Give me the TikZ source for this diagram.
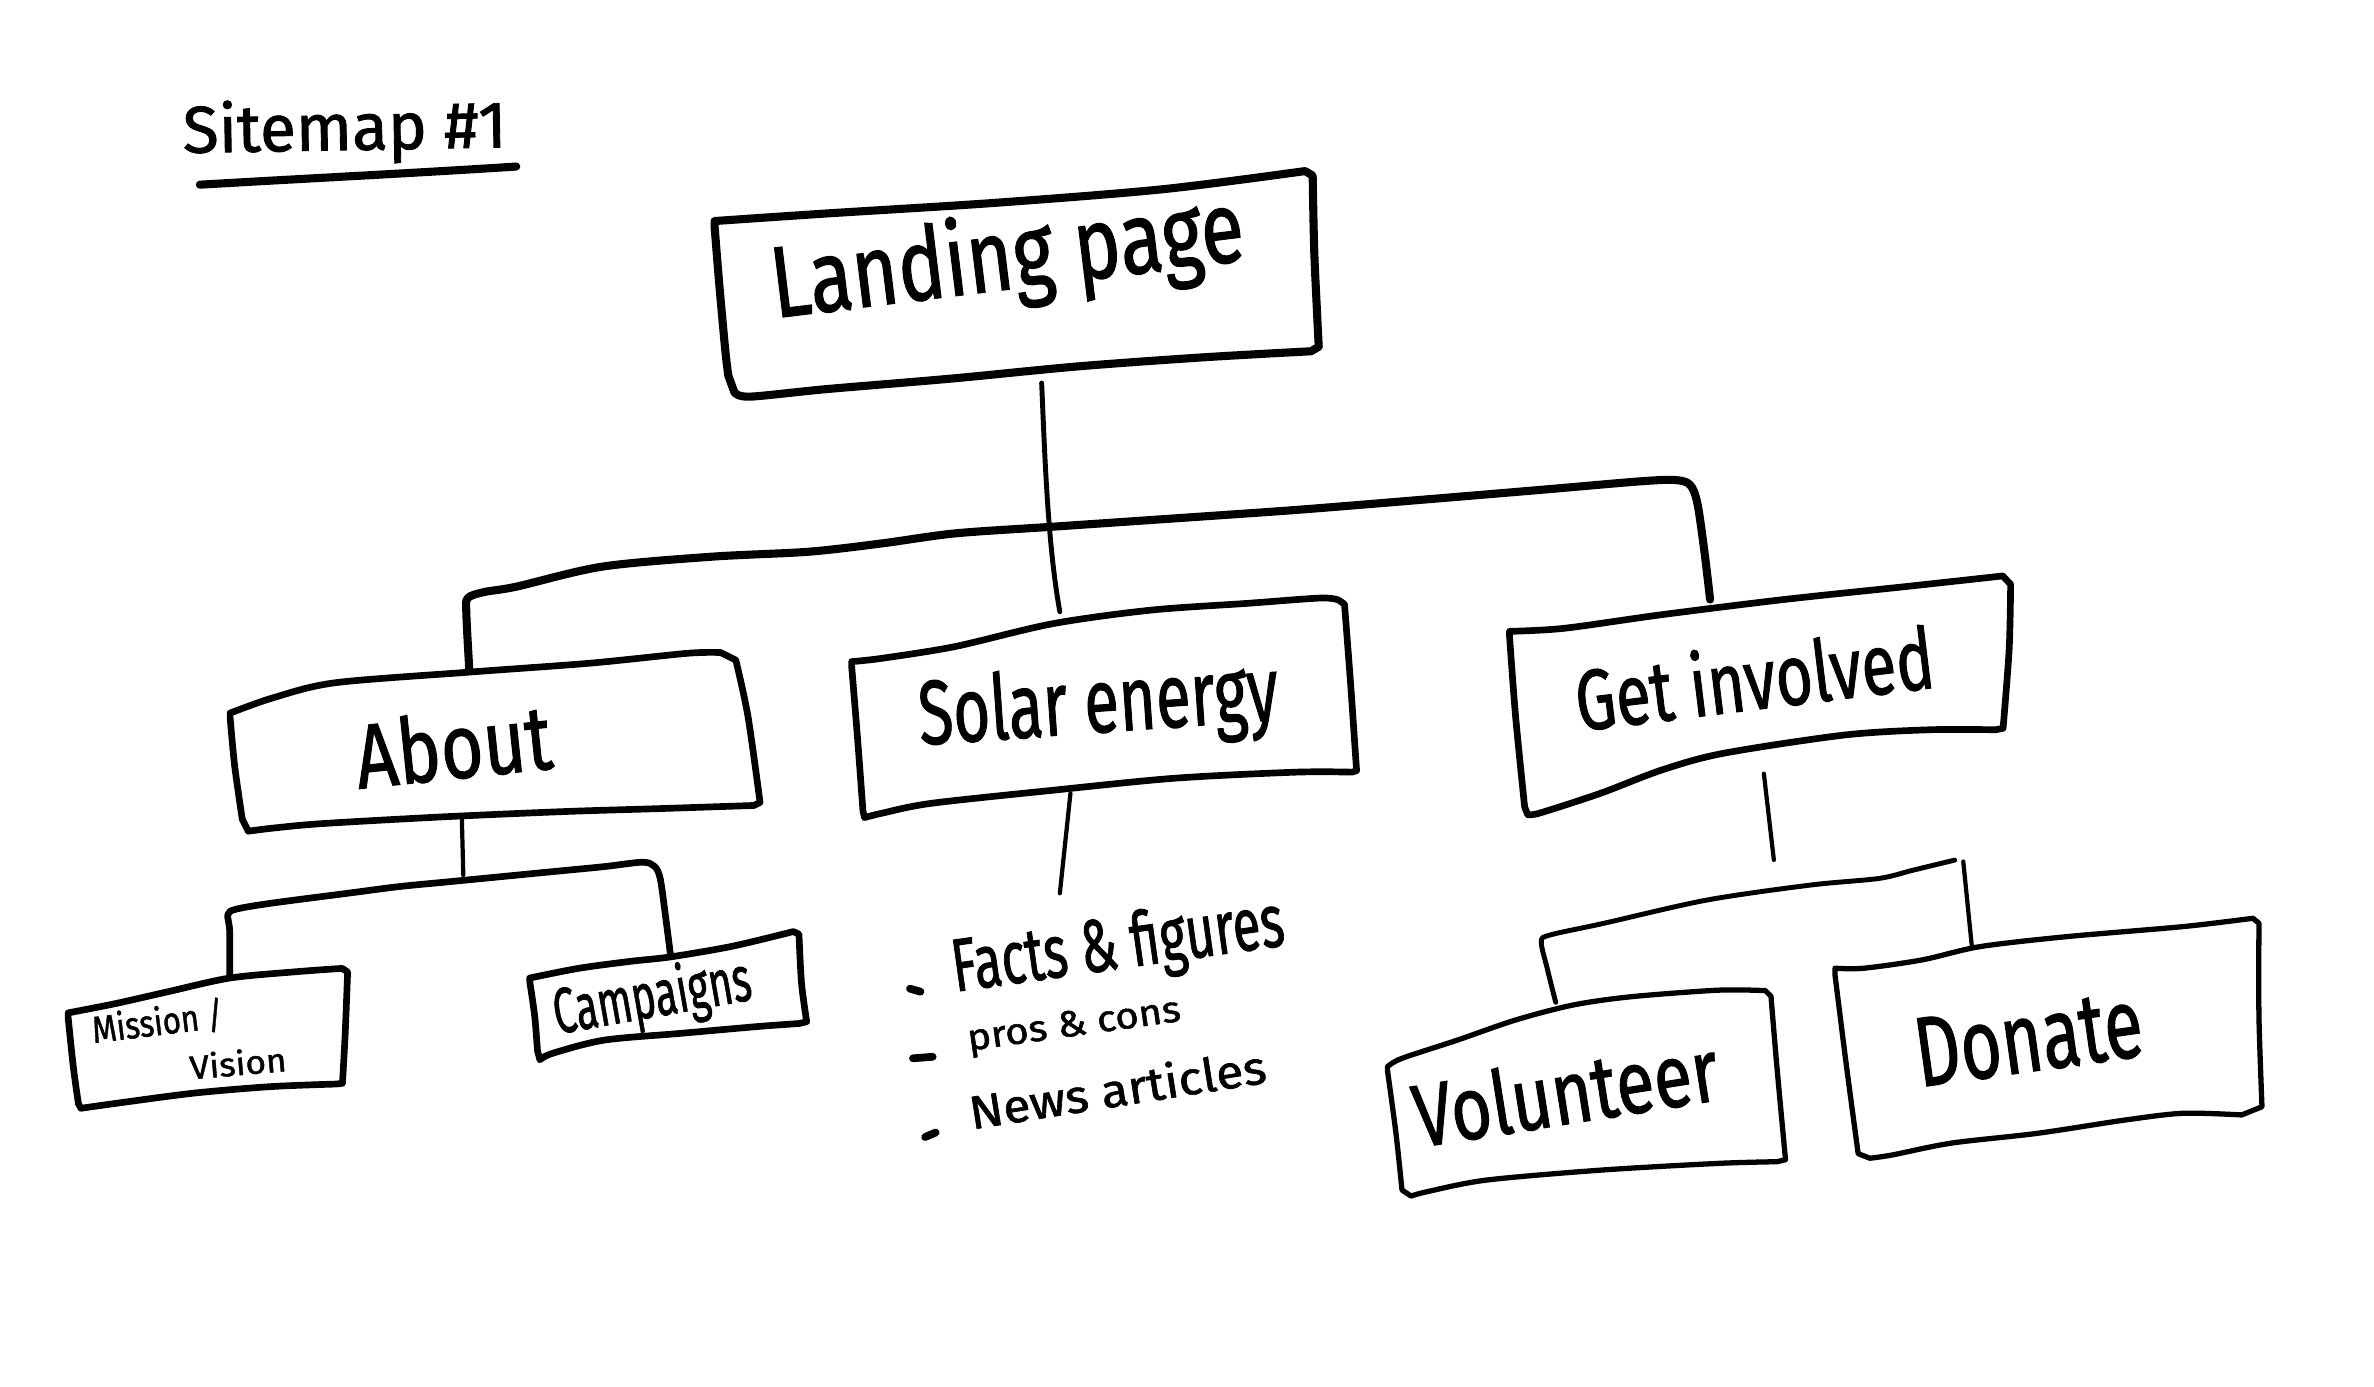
\documentclass[tikz,border=0pt]{standalone}
\usepackage{fontspec}
\setmainfont{Fira Sans}[FakeBold=1.3]
\usepackage{graphicx}
\newlength\pxu
\setlength\pxu{0.01514cm}
% hand lettering: text stretched to a given width and height (in sketch units)
\newcommand\hand[3]{\resizebox{#1\pxu}{#2\pxu}{#3}}
\begin{document}
\begin{tikzpicture}[x=0.01514cm, y=-0.01514cm,
  box/.style={line width=1.9pt, line join=round, line cap=round},
  thinbox/.style={line width=1.5pt, line join=round, line cap=round},
  bar/.style={line width=2.3pt, line join=round, line cap=round},
  wire/.style={line width=1.2pt, line cap=round},
  subbar/.style={line width=1.9pt, line join=round, line cap=round},
  handtext/.style={anchor=base west, inner sep=0pt, outer sep=0pt},
  bulletmark/.style={line width=2.2pt, line cap=round}]

\useasboundingbox[fill=white] (0,0) rectangle (1568,915.5);

% ---------- title ----------
\node[handtext, rotate=1] (title) at (121,101) {\hand{214}{34}{Sitemap \#1}};
\coordinate (ul-a) at (132,122);
\coordinate (ul-b) at (341,110);
\draw[line width=2.3pt, line cap=round] (ul-a) .. controls (200,118) and (280,114) .. (ul-b);

% ---------- landing page ----------
\draw[box, line width=2.3pt]
  plot[smooth, tension=.5] coordinates {(472,146) (546,141) (657,134) (768,125) (862,113)}
  -- plot[smooth, tension=.5] coordinates {(867,116) (868,165) (870,209) (871,229)}
  -- plot[smooth, tension=.5] coordinates {(866,232) (795,236) (712,242) (629,250) (546,257) (495,262) (485,259)}
  -- plot[smooth, tension=.5] coordinates {(481,248) (479,231) (475,187) (472,150)} -- cycle;
\node[handtext, rotate=7] (landing) at (512,210) {\hand{314}{52}{Landing page}};

% ---------- about ----------
\draw[box]
  plot[smooth, tension=.5] coordinates {(152,471) (180,461) (221,451) (309,444) (390,438) (454,431.5) (476,431)}
  -- plot[smooth, tension=.5] coordinates {(486,436) (494,473) (502,530)}
  -- plot[smooth, tension=.5] coordinates {(498,532) (438,534) (373.5,536) (293,539.5) (212.5,544) (180,547) (164,549)}
  -- plot[smooth, tension=.5] coordinates {(160,541) (155,506) (152,474)} -- cycle;
\node[handtext, rotate=6] (about) at (237,521) {\hand{130}{45}{About}};

% ---------- solar energy ----------
\draw[box]
  plot[smooth, tension=.5] coordinates {(562.5,437) (582.6,434.8) (631,427) (695,412) (760,403) (824,398.5) (872,395) (884,396.3)}
  -- plot[smooth, tension=.5] coordinates {(888,399) (892,451) (896,509)}
  -- plot[smooth, tension=.5] coordinates {(893,510) (856,510) (776,514) (695,522) (615,530.6) (583,537) (571,540)}
  -- plot[smooth, tension=.5] coordinates {(570,536) (566.5,489) (562.5,440)} -- cycle;
\node[handtext, rotate=4] (solar) at (608,492) {\hand{238}{45}{Solar energy}};

% ---------- get involved ----------
\draw[box]
  plot[smooth, tension=.5] coordinates {(997,417) (1033,415) (1097.5,406) (1178,396) (1258,387.5) (1322.8,380.4)}
  -- plot[smooth, tension=.5] coordinates {(1328,386) (1327,429) (1323,481)}
  -- plot[smooth, tension=.5] coordinates {(1318,482) (1274.5,482) (1218,485.5) (1138,497.6) (1097.5,508.6) (1057,524) (1017,537) (1009,538)}
  -- plot[smooth, tension=.5] coordinates {(1007,533) (1001,473) (997,420)} -- cycle;
\node[handtext, rotate=7] (involved) at (1043,483) {\hand{238}{44}{Get involved}};

% ---------- mission / vision ----------
\draw[box]
  plot[smooth, tension=.5] coordinates {(45,669) (77,662.7) (111,655) (151.7,646) (195.7,641.8) (226,639.6)}
  -- plot[smooth, tension=.5] coordinates {(229.6,642) (228,682.5) (226.2,715.5)}
  -- plot[smooth, tension=.5] coordinates {(222,716) (178.8,717.7) (128,722) (77,728.7) (53.5,732)}
  -- plot[smooth, tension=.5] coordinates {(51.8,729) (48.4,704.5) (45,672)} -- cycle;
\node[handtext, rotate=7] (mission) at (62,689) {\hand{87}{20}{Mission /}};
\node[handtext, rotate=5] (vision) at (126,713) {\hand{64}{17}{Vision}};

% ---------- campaigns ----------
\draw[box]
  plot[smooth, tension=.5] coordinates {(349.8,646) (382,639.6) (416,635) (443,632) (483.6,625) (524,615.3)}
  -- plot[smooth, tension=.5] coordinates {(527.7,617) (529.4,649.5) (532.8,674.8)}
  -- plot[smooth, tension=.5] coordinates {(528,676) (500.6,678) (449.8,682.5) (399,687) (365,695.7) (356.6,700)}
  -- plot[smooth, tension=.5] coordinates {(355,694) (353.2,671.5) (350,649)} -- cycle;
\node[handtext, rotate=10] (campaigns) at (368,683) {\hand{132}{33}{Campaigns}};

% ---------- volunteer ----------
\draw[thinbox]
  plot[smooth, tension=.5] coordinates {(916.4,704.5) (926,699) (962.5,687) (1001,673.7) (1039,663.8) (1077.6,658.3) (1135,654) (1166,654.3)}
  -- plot[smooth, tension=.5] coordinates {(1169.7,658) (1173.6,704.5) (1179.3,766)}
  -- plot[smooth, tension=.5] coordinates {(1173.6,767.3) (1135,768.4) (1058,772.8) (982,779.4) (943,787) (932,790)}
  -- plot[smooth, tension=.5] coordinates {(926,786) (922,748.5) (916.4,707)} -- cycle;
\node[handtext, rotate=9] (volunteer) at (937,758) {\hand{203}{44}{Volunteer}};

% ---------- donate ----------
\draw[thinbox]
  plot[smooth, tension=.5] coordinates {(1212,639.5) (1231,639.5) (1269.5,634) (1308,625.2) (1365.5,618.6) (1442,612) (1488,606.5)}
  -- plot[smooth, tension=.5] coordinates {(1492,609.8) (1492,671.5) (1494,731)}
  -- plot[smooth, tension=.5] coordinates {(1480.6,736.4) (1442,735.3) (1404,739.7) (1346,748.5) (1289,755) (1250,762.8) (1235,765)}
  -- plot[smooth, tension=.5] coordinates {(1227.3,762) (1219.6,704.5) (1212,644)} -- cycle;
\node[handtext, rotate=8] (donate) at (1268,718) {\hand{151}{45}{Donate}};

% ---------- solar energy topics ----------
\node[handtext, rotate=8] (facts) at (631,655) {\hand{221}{37}{Facts \& figures}};
\node[handtext, rotate=8] (pros) at (640,694) {\hand{142}{17}{pros \& cons}};
\node[handtext, rotate=9] (news) at (642,746) {\hand{198}{24}{News articles}};
\draw[bulletmark] (601,653) -- (608,655);
\draw[bulletmark] (603,699) -- (616,698);
\draw[bulletmark] (611,751) -- (618,748);

% ---------- anchor points on the boxes ----------
\coordinate (lp-s) at (688,253);
\coordinate (se-n) at (700,404);
\coordinate (se-s) at (707,524);
\coordinate (list-n) at (700,590);
\coordinate (ab-n) at (310,443);
\coordinate (gi-n) at (1129.5,396);
\coordinate (ab-s) at (305,539);
\coordinate (ab-j) at (306,578);
\coordinate (mv-n) at (151.7,645);
\coordinate (ca-n) at (443,632);
\coordinate (gi-s) at (1165,511);
\coordinate (gi-j) at (1171.6,568);
\coordinate (vo-n) at (1027.5,662);
\coordinate (gi-r) at (1296.7,569);
\coordinate (do-n) at (1302.3,624.5);

% ---------- connectors ----------
% landing page down to solar energy
\draw[wire, line width=1.4pt] (lp-s) .. controls (690,300) and (692,360) .. (se-n);
% main branch bar
\draw[bar] plot[smooth, tension=.5] coordinates {(ab-n) (308,405) (309,395) (320,391) (341,387.5) (397.5,374.3) (470,367.7)
  (534.3,364.4) (582.6,358.9) (630.8,352.3) (695.2,347.9) (775.7,342.4) (856.2,336.8) (936.6,330.3)
  (1017,323.6) (1081,318.1) (1105.5,317) (1116,320) (1121,332) (1125.6,363.3) (gi-n)};
% about branch
\draw[wire] (ab-s) -- (ab-j);
\draw[subbar] plot[smooth, tension=.5] coordinates {(mv-n) (151.7,615) (150.5,604) (156,600.5) (178.8,596.6) (229.6,590)
  (263.5,585.6) (297.4,582.3) (331.2,579) (365.1,575.7) (399,572.4) (424,569.5) (432,572) (436,580) (439.6,605.4) (ca-n)};
% solar energy topics
\draw[wire] (se-s) -- (list-n);
% get involved branch
\draw[wire] (gi-s) -- (gi-j);
\draw[wire, line width=1.4pt] plot[smooth, tension=.5] coordinates {(vo-n) (1022,640) (1018,622) (1024,617.5) (1059,609.9)
  (1127.2,594.5) (1195.5,584.6) (1241,580.2) (1263.7,574.7) (1291,568.1)};
\draw[wire] (gi-r) -- (do-n);

\end{tikzpicture}
\end{document}
